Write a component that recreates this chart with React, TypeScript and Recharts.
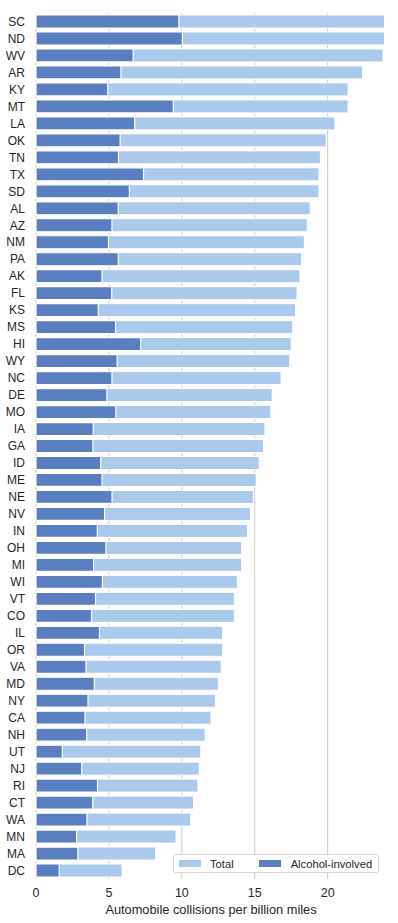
import React from 'react';
import { BarChart, Bar, XAxis, YAxis, CartesianGrid, Legend } from 'recharts';

const states = [
  'SC', 'ND', 'WV', 'AR', 'KY', 'MT', 'LA', 'OK', 'TN', 'TX', 'SD', 'AL', 'AZ', 'NM', 'PA', 'AK', 'FL',
  'KS', 'MS', 'HI', 'WY', 'NC', 'DE', 'MO', 'IA', 'GA', 'ID', 'ME', 'NE', 'NV', 'IN', 'OH', 'MI', 'WI',
  'VT', 'CO', 'IL', 'OR', 'VA', 'MD', 'NY', 'CA', 'NH', 'UT', 'NJ', 'RI', 'CT', 'WA', 'MN', 'MA', 'DC',
];

const totals = [
  23.9, 23.9, 23.8, 22.4, 21.4, 21.4, 20.5, 19.9, 19.5, 19.4, 19.4, 18.8, 18.6, 18.4, 18.2, 18.1, 17.9,
  17.8, 17.6, 17.5, 17.4, 16.8, 16.2, 16.1, 15.7, 15.6, 15.3, 15.1, 14.9, 14.7, 14.5, 14.1, 14.1, 13.8,
  13.6, 13.6, 12.8, 12.8, 12.7, 12.5, 12.3, 12.0, 11.6, 11.3, 11.2, 11.1, 10.8, 10.6, 9.6, 8.2, 5.9,
];

const alcohol = [
  9.799, 10.038, 6.664, 5.824, 4.922, 9.416, 6.765, 5.771, 5.655, 7.372, 6.402, 5.64, 5.208, 4.968, 5.642, 4.525, 5.191,
  4.272, 5.456, 7.175, 5.568, 5.208, 4.86, 5.474, 3.925, 3.9, 4.437, 4.53, 5.215, 4.704, 4.205, 4.794, 3.948, 4.554,
  4.08, 3.808, 4.352, 3.328, 3.429, 4.0, 3.567, 3.36, 3.48, 1.808, 3.136, 4.218, 3.888, 3.498, 2.784, 2.87, 1.593,
];

const xTicks = [0, 5, 10, 15, 20];

const LIGHT = '#abc9eb';
const DARK = '#5a7fc1';
const TEXT = '#262626';
const FONT = '"Liberation Sans", Arial, sans-serif';

const data = states.map((abbrev, i) => ({ abbrev, total: totals[i], alcohol: alcohol[i] }));

const LegendBox = () => (
  <div
    style={{
      position: 'absolute',
      left: 173,
      top: 854,
      width: 206,
      height: 19,
      boxSizing: 'border-box',
      border: '1px solid #d6d6d6',
      borderRadius: 3,
      background: '#fff',
      display: 'flex',
      alignItems: 'center',
      whiteSpace: 'nowrap',
      fontFamily: FONT,
      fontSize: 11.2,
      color: TEXT,
    }}
  >
    <span style={{ flexShrink: 0, width: 22, height: 7, background: LIGHT, marginLeft: 5 }} />
    <span style={{ flexShrink: 0, marginLeft: 9 }}>Total</span>
    <span style={{ flexShrink: 0, width: 22, height: 7, background: DARK, marginLeft: 25 }} />
    <span style={{ flexShrink: 0, marginLeft: 10 }}>Alcohol-involved</span>
  </div>
);

export default function App() {
  return (
    <div style={{ position: 'relative', width: 398, height: 923, background: '#fff' }}>
      <style>{'body{margin:0}'}</style>
      <BarChart
        width={398}
        height={923}
        data={data}
        layout="vertical"
        margin={{ top: 13, right: 12, left: 0, bottom: 0 }}
        barSize={13}
        barGap={-13}
      >
        <CartesianGrid horizontal={false} syncWithTicks stroke="#cccccc" strokeWidth={1} />
        <XAxis
          type="number"
          domain={[0, 24]}
          ticks={xTicks}
          axisLine={false}
          tickLine={false}
          tickSize={0}
          tickMargin={9}
          height={44}
          tick={{ fill: TEXT, fontSize: 12.5, fontFamily: FONT }}
          label={{
            value: 'Automobile collisions per billion miles',
            position: 'insideBottom',
            offset: 9,
            fill: TEXT,
            fontSize: 12.8,
            fontFamily: FONT,
          }}
        />
        <YAxis
          type="category"
          dataKey="abbrev"
          width={36}
          axisLine={false}
          tickLine={false}
          tickSize={0}
          tickMargin={11}
          interval={0}
          tick={{ fill: TEXT, fontSize: 12, fontFamily: FONT }}
        />
        <Bar dataKey="total" name="Total" fill={LIGHT} stroke="#fff" strokeWidth={1} isAnimationActive={false} />
        <Bar dataKey="alcohol" name="Alcohol-involved" fill={DARK} stroke="#fff" strokeWidth={1.2} isAnimationActive={false} />
        <Legend content={() => null} />
      </BarChart>
      <LegendBox />
    </div>
  );
}
